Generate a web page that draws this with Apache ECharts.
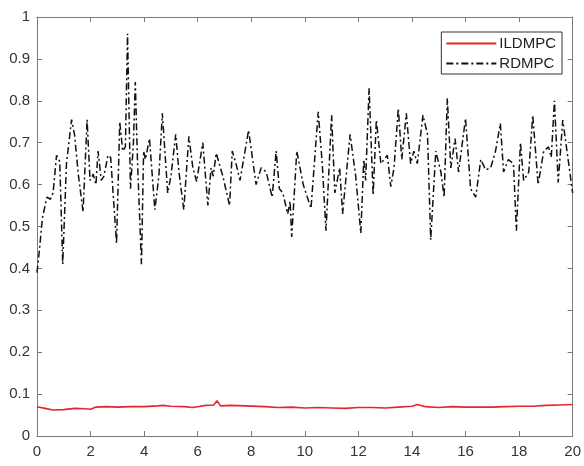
<!DOCTYPE html>
<html>
<head>
<meta charset="utf-8">
<script src="https://cdn.jsdelivr.net/npm/echarts@6/dist/echarts.min.js"></script>
<style>html,body{margin:0;padding:0;background:#fff}#c{width:584px;height:466px}</style>
</head>
<body>
<div id="c"></div>
<script>
const xTicks = [0,2,4,6,8,10,12,14,16,18,20];
const yTicks = [0,0.1,0.2,0.3,0.4,0.5,0.6,0.7,0.8,0.9,1];

const rdmpcT = [0,0.1,0.2,0.37,0.5,0.6,0.73,0.85,0.96,1.1,1.29,1.4,1.55,1.72,1.87,1.98,2.1,2.2,2.28,2.4,2.5,2.65,2.75,2.97,3.09,3.2,3.3,3.38,3.49,3.6,3.67,3.75,3.9,3.98,4.05,4.2,4.4,4.55,4.68,4.88,5.0,5.18,5.3,5.48,5.67,5.82,5.96,6.19,6.38,6.5,6.58,6.69,6.94,7.19,7.29,7.43,7.58,7.9,8.18,8.37,8.56,8.78,8.93,9.05,9.18,9.36,9.45,9.51,9.7,9.94,10.23,10.5,10.65,10.79,11.0,11.12,11.3,11.41,11.69,11.9,12.09,12.2,12.27,12.4,12.55,12.67,12.84,13.08,13.21,13.33,13.49,13.62,13.79,13.95,14.07,14.2,14.41,14.58,14.7,14.89,15.08,15.2,15.32,15.45,15.61,15.74,16.0,16.19,16.38,16.57,16.75,16.94,17.12,17.3,17.42,17.6,17.79,17.9,18.05,18.17,18.36,18.51,18.71,18.92,19.1,19.2,19.32,19.46,19.63,19.82,20.0];
const rdmpcV = [0.39,0.45,0.52,0.57,0.565,0.58,0.67,0.655,0.41,0.65,0.755,0.72,0.62,0.535,0.755,0.61,0.625,0.60,0.68,0.61,0.62,0.67,0.665,0.46,0.75,0.68,0.69,0.96,0.59,0.70,0.845,0.66,0.41,0.68,0.66,0.71,0.54,0.62,0.77,0.58,0.62,0.72,0.63,0.54,0.715,0.64,0.607,0.70,0.55,0.64,0.62,0.675,0.62,0.55,0.68,0.65,0.61,0.73,0.60,0.64,0.63,0.57,0.68,0.59,0.58,0.53,0.56,0.475,0.68,0.60,0.543,0.774,0.65,0.49,0.766,0.58,0.64,0.53,0.72,0.62,0.484,0.66,0.61,0.83,0.575,0.754,0.65,0.67,0.595,0.64,0.782,0.66,0.77,0.65,0.68,0.65,0.766,0.72,0.468,0.68,0.63,0.57,0.806,0.64,0.71,0.63,0.758,0.59,0.57,0.66,0.635,0.64,0.68,0.746,0.63,0.66,0.65,0.49,0.70,0.61,0.63,0.766,0.60,0.68,0.69,0.665,0.80,0.605,0.754,0.665,0.58];

const ildmpcT = [0,0.3,0.6,1.0,1.4,1.8,2.0,2.2,2.6,3.0,3.5,4.0,4.5,4.7,5.0,5.5,5.8,6.0,6.3,6.6,6.72,6.85,7.2,7.8,8.5,9.0,9.5,10.0,10.5,11.0,11.5,12.0,12.5,13.0,13.5,14.0,14.2,14.5,15.0,15.5,16.0,16.5,17.0,17.5,18.0,18.5,19.0,19.5,20.0];
const ildmpcV = [0.07,0.066,0.062,0.063,0.066,0.065,0.064,0.069,0.070,0.069,0.070,0.070,0.072,0.073,0.071,0.070,0.068,0.070,0.073,0.074,0.084,0.072,0.073,0.072,0.070,0.068,0.069,0.067,0.068,0.067,0.066,0.068,0.068,0.067,0.069,0.071,0.075,0.070,0.068,0.070,0.069,0.069,0.069,0.070,0.071,0.071,0.073,0.074,0.075];

const seriesNames = ['ILDMPC','RDMPC'];

const zip = (a,b) => a.map((x,i) => [x,b[i]]);
const axisColor = '#7a7a7a';
const labelStyle = {color:'#333', fontSize:15, fontFamily:'Liberation Sans, Arial, sans-serif'};

const chart = echarts.init(document.getElementById('c'), null, {renderer:'canvas'});
chart.setOption({
  animation:false,
  backgroundColor:'#fff',
  grid:{left:37, right:10, top:17, bottom:30, containLabel:false},
  legend:{
    data:seriesNames, orient:'vertical', right:22, top:32,
    backgroundColor:'#fff', borderColor:'#333', borderWidth:1,
    padding:[4,6,3,4], itemGap:5, itemWidth:50, itemHeight:14,
    itemStyle:{opacity:0},
    textStyle:{color:'#222', fontSize:15, fontFamily:'Liberation Sans, Arial, sans-serif', padding:[0,0,0,-2]}
  },
  xAxis:[{
    type:'value', min:0, max:20, interval:2, position:'bottom',
    axisLine:{show:true, onZero:false, lineStyle:{color:axisColor}},
    axisTick:{show:true, inside:true, length:5, lineStyle:{color:axisColor}},
    axisLabel:{...labelStyle, margin:8, formatter:v => xTicks.includes(v) ? String(v) : ''},
    splitLine:{show:false}
  },{
    type:'value', min:0, max:20, interval:2, position:'top',
    axisLine:{show:true, onZero:false, lineStyle:{color:axisColor}},
    axisTick:{show:true, inside:true, length:5, lineStyle:{color:axisColor}},
    axisLabel:{show:false}, splitLine:{show:false}
  }],
  yAxis:[{
    type:'value', min:0, max:1, interval:0.1, position:'left',
    axisLine:{show:true, onZero:false, lineStyle:{color:axisColor}},
    axisTick:{show:true, inside:true, length:5, lineStyle:{color:axisColor}},
    axisLabel:{...labelStyle, margin:7, formatter:v => {const r=Math.round(v*10)/10; return yTicks.includes(r) ? String(r) : '';}},
    splitLine:{show:false}
  },{
    type:'value', min:0, max:1, interval:0.1, position:'right',
    axisLine:{show:true, onZero:false, lineStyle:{color:axisColor}},
    axisTick:{show:true, inside:true, length:5, lineStyle:{color:axisColor}},
    axisLabel:{show:false}, splitLine:{show:false}
  }],
  series:[{
    name:seriesNames[0], type:'line', data:zip(ildmpcT, ildmpcV),
    showSymbol:false, symbol:'none', smooth:false,
    lineStyle:{color:'#e5262c', width:1.6}, itemStyle:{color:'#e5262c'}, z:3
  },{
    name:seriesNames[1], type:'line', data:zip(rdmpcT, rdmpcV),
    showSymbol:false, symbol:'none', smooth:false,
    lineStyle:{color:'#111', width:1.5, type:[7,3,2,3]}, itemStyle:{color:'#111'}, z:2
  }]
});
</script>
</body>
</html>
